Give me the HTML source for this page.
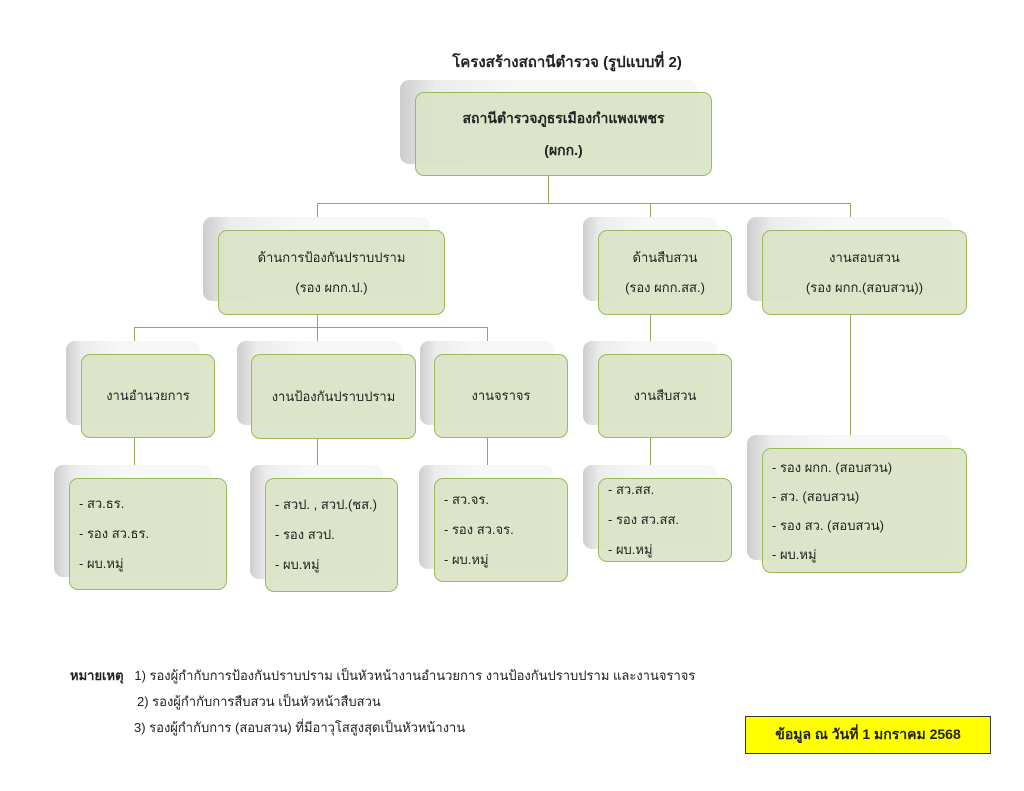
<!DOCTYPE html>
<html><head><meta charset="utf-8">
<style>
*{margin:0;padding:0;box-sizing:border-box}
body{width:1024px;height:791px;background:#fff;position:relative;overflow:hidden;font-family:"Liberation Sans","DejaVu Sans",sans-serif;color:#222}
.sh{position:absolute;border-radius:9px;background:linear-gradient(90deg,#cdcdcd 0%,#ececec 12%,#f7f7f7 40%,#f7f7f7 100%);}
.fr{position:absolute;border-radius:9px;background:rgba(216,226,195,0.88);border:1px solid #9bbb59;display:flex;flex-direction:column;justify-content:center;align-items:center;font-size:13px;line-height:30px;text-align:center}
.fr.l{align-items:flex-start;padding-left:9px;text-align:left}
.ln{position:absolute;background:#94a862}
.h{height:1px}.v{width:1px}
</style></head><body>
<div style="position:absolute;left:0;width:1134px;top:50px;text-align:center;font-weight:bold;font-size:15px">โครงสร้างสถานีตำรวจ (รูปแบบที่ 2)</div>

<div class="ln v" style="left:548px;top:176px;height:27px"></div>
<div class="ln h" style="left:317px;top:203px;width:534px"></div>
<div class="ln v" style="left:317px;top:203px;height:27px"></div>
<div class="ln v" style="left:650px;top:203px;height:27px"></div>
<div class="ln v" style="left:850px;top:203px;height:27px"></div>
<div class="ln v" style="left:317px;top:315px;height:12px"></div>
<div class="ln h" style="left:134px;top:327px;width:354px"></div>
<div class="ln v" style="left:134px;top:327px;height:27px"></div>
<div class="ln v" style="left:317px;top:327px;height:27px"></div>
<div class="ln v" style="left:487px;top:327px;height:27px"></div>
<div class="ln v" style="left:650px;top:315px;height:39px"></div>
<div class="ln v" style="left:134px;top:438px;height:27px"></div>
<div class="ln v" style="left:317px;top:439px;height:26px"></div>
<div class="ln v" style="left:487px;top:438px;height:27px"></div>
<div class="ln v" style="left:650px;top:438px;height:27px"></div>
<div class="ln v" style="left:850px;top:315px;height:120px"></div>

<div class="sh" style="left:400px;top:80px;width:297px;height:84px"></div>
<div class="fr" style="left:415px;top:92px;width:297px;height:84px;font-weight:bold;font-size:14px;line-height:32px">สถานีตำรวจภูธรเมืองกำแพงเพชร<br>(ผกก.)</div>

<div class="sh" style="left:203px;top:217px;width:227px;height:84px"></div>
<div class="fr" style="left:218px;top:230px;width:227px;height:85px">ด้านการป้องกันปราบปราม<br>(รอง ผกก.ป.)</div>
<div class="sh" style="left:583px;top:217px;width:134px;height:84px"></div>
<div class="fr" style="left:598px;top:230px;width:134px;height:85px">ด้านสืบสวน<br>(รอง ผกก.สส.)</div>
<div class="sh" style="left:747px;top:217px;width:205px;height:84px"></div>
<div class="fr" style="left:762px;top:230px;width:205px;height:85px">งานสอบสวน<br>(รอง ผกก.(สอบสวน))</div>

<div class="sh" style="left:66px;top:341px;width:134px;height:84px"></div>
<div class="fr" style="left:81px;top:354px;width:134px;height:84px">งานอำนวยการ</div>
<div class="sh" style="left:237px;top:341px;width:165px;height:84px"></div>
<div class="fr" style="left:251px;top:354px;width:165px;height:85px">งานป้องกันปราบปราม</div>
<div class="sh" style="left:420px;top:341px;width:134px;height:84px"></div>
<div class="fr" style="left:434px;top:354px;width:134px;height:84px">งานจราจร</div>
<div class="sh" style="left:583px;top:341px;width:134px;height:84px"></div>
<div class="fr" style="left:598px;top:354px;width:134px;height:84px">งานสืบสวน</div>

<div class="sh" style="left:54px;top:465px;width:158px;height:112px"></div>
<div class="fr l" style="left:69px;top:478px;width:158px;height:112px">- สว.ธร.<br>- รอง สว.ธร.<br>- ผบ.หมู่</div>
<div class="sh" style="left:250px;top:465px;width:133px;height:114px"></div>
<div class="fr l" style="left:265px;top:478px;width:133px;height:114px">- สวป. , สวป.(ชส.)<br>- รอง สวป.<br>- ผบ.หมู่</div>
<div class="sh" style="left:419px;top:465px;width:134px;height:104px"></div>
<div class="fr l" style="left:434px;top:478px;width:134px;height:104px">- สว.จร.<br>- รอง สว.จร.<br>- ผบ.หมู่</div>
<div class="sh" style="left:583px;top:465px;width:134px;height:84px"></div>
<div class="fr l" style="left:598px;top:478px;width:134px;height:84px">- สว.สส.<br>- รอง สว.สส.<br>- ผบ.หมู่</div>
<div class="sh" style="left:747px;top:435px;width:205px;height:125px"></div>
<div class="fr l" style="left:762px;top:448px;width:205px;height:125px;line-height:29px">- รอง ผกก. (สอบสวน)<br>- สว. (สอบสวน)<br>- รอง สว. (สอบสวน)<br>- ผบ.หมู่</div>

<div style="position:absolute;left:70px;top:663px;font-size:13px;line-height:26px">
<div><b>หมายเหตุ</b>&nbsp;&nbsp; 1) รองผู้กำกับการป้องกันปราบปราม เป็นหัวหน้างานอำนวยการ งานป้องกันปราบปราม และงานจราจร</div>
<div style="padding-left:67px">2) รองผู้กำกับการสืบสวน เป็นหัวหน้าสืบสวน</div>
<div style="padding-left:64px">3) รองผู้กำกับการ (สอบสวน) ที่มีอาวุโสสูงสุดเป็นหัวหน้างาน</div>
</div>
<div style="position:absolute;left:745px;top:716px;width:246px;height:38px;background:#ffff00;border:1px solid #333;display:flex;align-items:center;justify-content:center;font-weight:bold;font-size:14px">ข้อมูล ณ วันที่ 1 มกราคม 2568</div>
</body></html>
